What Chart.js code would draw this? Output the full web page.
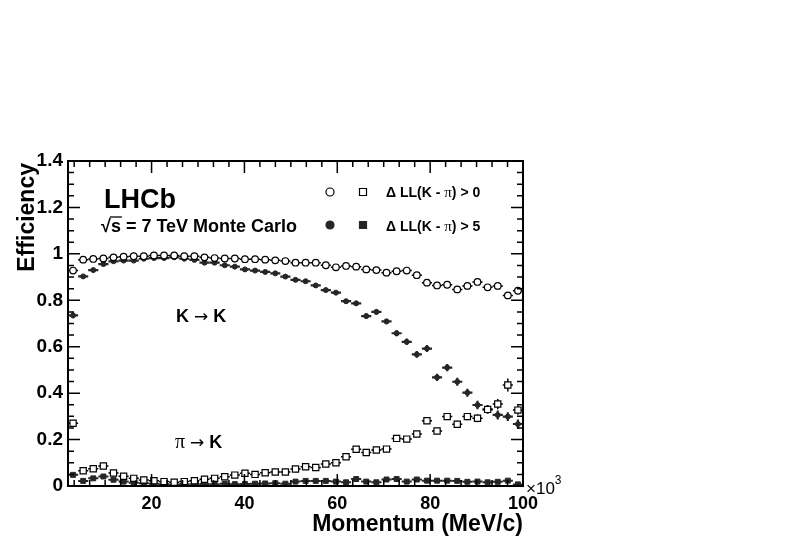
<!DOCTYPE html>
<html>
<head>
<meta charset="utf-8">
<title>LHCb RICH kaon efficiency</title>
<script src="https://cdn.jsdelivr.net/npm/chart.js@4.4.1/dist/chart.umd.min.js"></script>
<style>
  body { margin: 0; background: #fff; }
  canvas { display: block; }
</style>
</head>
<body>
<canvas id="effChart" width="788" height="540"></canvas>
<script>
// bin centres of the momentum histogram (x10^3 MeV/c)
const momentum = [3.09, 5.27, 7.44, 9.62, 11.80, 13.98, 16.16, 18.33, 20.51, 22.69,
  24.87, 27.04, 29.22, 31.40, 33.58, 35.76, 37.93, 40.11, 42.29, 44.47,
  46.64, 48.82, 51.00, 53.18, 55.36, 57.53, 59.71, 61.89, 64.07, 66.24,
  68.42, 70.60, 72.78, 74.96, 77.13, 79.31, 81.49, 83.67, 85.84, 88.02,
  90.20, 92.38, 94.56, 96.73, 98.91];
const binHalfWidth = 1.09;

// K -> K, DLL(K-pi) > 0
const kaonLoose = [0.928, 0.975, 0.978, 0.980, 0.985, 0.988, 0.990, 0.990, 0.993, 0.993,
  0.993, 0.990, 0.990, 0.985, 0.982, 0.980, 0.980, 0.977, 0.977, 0.975,
  0.972, 0.969, 0.962, 0.962, 0.962, 0.951, 0.942, 0.948, 0.945, 0.933,
  0.930, 0.919, 0.925, 0.928, 0.908, 0.876, 0.864, 0.867, 0.847, 0.862,
  0.879, 0.856, 0.862, 0.821, 0.841];
const kaonLooseErr = [0.006, 0.002, 0.002, 0.002, 0.002, 0.002, 0.002, 0.002, 0.002, 0.002,
  0.002, 0.002, 0.002, 0.003, 0.003, 0.003, 0.003, 0.003, 0.003, 0.003,
  0.004, 0.004, 0.004, 0.004, 0.005, 0.005, 0.005, 0.006, 0.006, 0.006,
  0.007, 0.007, 0.007, 0.008, 0.008, 0.009, 0.009, 0.010, 0.010, 0.011,
  0.011, 0.012, 0.012, 0.014, 0.014];

// K -> K, DLL(K-pi) > 5
const kaonTight = [0.735, 0.903, 0.930, 0.956, 0.968, 0.971, 0.971, 0.979, 0.982, 0.982,
  0.985, 0.979, 0.974, 0.962, 0.962, 0.951, 0.945, 0.933, 0.928, 0.922,
  0.916, 0.902, 0.888, 0.882, 0.864, 0.844, 0.833, 0.796, 0.787, 0.732,
  0.750, 0.709, 0.658, 0.621, 0.567, 0.592, 0.468, 0.510, 0.449, 0.402,
  0.349, 0.330, 0.306, 0.299, 0.267];
const kaonTightErr = [0.012, 0.004, 0.003, 0.003, 0.003, 0.002, 0.002, 0.002, 0.002, 0.002,
  0.002, 0.002, 0.003, 0.003, 0.003, 0.003, 0.004, 0.004, 0.004, 0.005,
  0.005, 0.006, 0.006, 0.007, 0.007, 0.008, 0.008, 0.009, 0.010, 0.011,
  0.011, 0.012, 0.013, 0.014, 0.015, 0.015, 0.016, 0.016, 0.017, 0.017,
  0.018, 0.018, 0.019, 0.019, 0.020];

// pi -> K, DLL(K-pi) > 0
const pionLoose = [0.270, 0.066, 0.074, 0.086, 0.056, 0.042, 0.033, 0.026, 0.023, 0.019,
  0.016, 0.019, 0.023, 0.029, 0.033, 0.040, 0.047, 0.055, 0.050, 0.057,
  0.060, 0.060, 0.073, 0.083, 0.080, 0.095, 0.100, 0.126, 0.158, 0.144,
  0.155, 0.159, 0.205, 0.202, 0.224, 0.281, 0.237, 0.299, 0.266, 0.299,
  0.292, 0.330, 0.353, 0.435, 0.327];
const pionLooseErr = [0.012, 0.003, 0.003, 0.003, 0.003, 0.002, 0.002, 0.002, 0.002, 0.002,
  0.002, 0.002, 0.002, 0.002, 0.002, 0.003, 0.003, 0.003, 0.003, 0.003,
  0.004, 0.004, 0.004, 0.005, 0.005, 0.006, 0.006, 0.007, 0.008, 0.008,
  0.009, 0.009, 0.010, 0.011, 0.012, 0.013, 0.013, 0.014, 0.015, 0.016,
  0.017, 0.018, 0.022, 0.028, 0.020];

// pi -> K, DLL(K-pi) > 5
const pionTight = [0.048, 0.022, 0.033, 0.041, 0.027, 0.019, 0.014, 0.012, 0.010, 0.008,
  0.007, 0.008, 0.007, 0.009, 0.008, 0.010, 0.008, 0.009, 0.010, 0.011,
  0.012, 0.010, 0.019, 0.022, 0.022, 0.022, 0.019, 0.016, 0.030, 0.019,
  0.016, 0.028, 0.030, 0.019, 0.028, 0.023, 0.023, 0.023, 0.022, 0.018,
  0.019, 0.016, 0.018, 0.023, 0.007];
const pionTightErr = [0.005, 0.002, 0.002, 0.002, 0.002, 0.001, 0.001, 0.001, 0.001, 0.001,
  0.001, 0.001, 0.001, 0.001, 0.001, 0.001, 0.001, 0.001, 0.001, 0.001,
  0.001, 0.001, 0.002, 0.002, 0.002, 0.002, 0.002, 0.002, 0.003, 0.002,
  0.002, 0.003, 0.003, 0.003, 0.003, 0.003, 0.003, 0.003, 0.003, 0.003,
  0.003, 0.003, 0.003, 0.004, 0.003];

// axis tick labels
const xTickLabels = [20, 40, 60, 80, 100];
const yTickLabels = [0, 0.2, 0.4, 0.6, 0.8, 1, 1.2, 1.4];

const SANS = '"Liberation Sans", Arial, Helvetica, sans-serif';
const SERIF = '"Liberation Serif", "Times New Roman", serif';
const ARROW = '"DejaVu Sans", sans-serif';
const DARK = '#262626';

function points(values) {
  return values.map((v, i) => ({ x: momentum[i], y: v }));
}

// horizontal (bin width) and vertical error bars, drawn just under each dataset's markers
const errorBars = {
  id: 'errorBars',
  beforeDatasetDraw(chart, args) {
    const ds = chart.data.datasets[args.index];
    const xs = chart.scales.x;
    const ys = chart.scales.y;
    const ctx = chart.ctx;
    ctx.save();
    ctx.strokeStyle = ds.errColor;
    ctx.lineWidth = ds.errWidth;
    ds.data.forEach((p, i) => {
      const e = ds.errors[i];
      const xc = xs.getPixelForValue(p.x);
      const y = ys.getPixelForValue(p.y);
      ctx.beginPath();
      ctx.moveTo(xs.getPixelForValue(p.x - binHalfWidth), y);
      ctx.lineTo(xs.getPixelForValue(p.x + binHalfWidth), y);
      ctx.moveTo(xc, ys.getPixelForValue(p.y - e));
      ctx.lineTo(xc, ys.getPixelForValue(p.y + e));
      ctx.stroke();
    });
    ctx.restore();
  }
};

// draw a row of text pieces in different fonts, returns end x
function drawRuns(ctx, x, y, runs) {
  runs.forEach(([text, font]) => {
    ctx.font = font;
    ctx.fillText(text, x, y);
    x += ctx.measureText(text).width;
  });
  return x;
}

function legendMarker(ctx, kind, filled, x, y) {
  ctx.beginPath();
  if (kind === 'circle') {
    ctx.arc(x, y, 4, 0, Math.PI * 2);
  } else {
    ctx.rect(x - 3.5, y - 3.5, 7, 7);
  }
  ctx.fillStyle = filled ? DARK : '#fff';
  ctx.fill();
  ctx.lineWidth = 1.2;
  ctx.strokeStyle = filled ? DARK : '#000';
  ctx.stroke();
}

// ROOT style frame with inward ticks, legend and labels
const rootFrame = {
  id: 'rootFrame',
  afterDraw(chart) {
    const ctx = chart.ctx;
    const a = chart.chartArea;
    const xs = chart.scales.x;
    const ys = chart.scales.y;
    ctx.save();
    ctx.strokeStyle = '#000';
    ctx.lineWidth = 2;
    ctx.strokeRect(a.left, a.top, a.right - a.left, a.bottom - a.top);

    ctx.lineWidth = 1.5;
    ctx.beginPath();
    for (let k = 1; k < 30; k++) {
      const px = xs.getPixelForValue(k * 10 / 3);
      const len = k % 6 === 0 ? 12 : 6;
      ctx.moveTo(px, a.bottom);
      ctx.lineTo(px, a.bottom - len);
      ctx.moveTo(px, a.top);
      ctx.lineTo(px, a.top + len);
    }
    for (let k = 1; k < 28; k++) {
      const py = ys.getPixelForValue(k * 0.05);
      const len = k % 4 === 0 ? 12 : 6;
      ctx.moveTo(a.left, py);
      ctx.lineTo(a.left + len, py);
      ctx.moveTo(a.right, py);
      ctx.lineTo(a.right - len, py);
    }
    ctx.stroke();

    ctx.fillStyle = '#000';
    ctx.textBaseline = 'alphabetic';
    ctx.textAlign = 'left';

    // experiment label
    ctx.font = 'bold 27px ' + SANS;
    ctx.fillText('LHCb', 104, 208);
    let x = drawRuns(ctx, 101, 232, [['√', 'bold 18px ' + SANS]]);
    ctx.font = 'bold 18px ' + SANS;
    const sw = ctx.measureText('s').width;
    ctx.lineWidth = 1.3;
    ctx.beginPath();
    ctx.moveTo(x - 1, 217);
    ctx.lineTo(x + sw + 1, 217);
    ctx.stroke();
    drawRuns(ctx, x, 232, [['s = 7 TeV Monte Carlo', 'bold 18px ' + SANS]]);

    // legend
    legendMarker(ctx, 'circle', false, 330, 192);
    legendMarker(ctx, 'rect', false, 363, 192);
    legendMarker(ctx, 'circle', true, 330, 225);
    legendMarker(ctx, 'rect', true, 363, 225);
    ctx.fillStyle = '#000';
    ['0', '5'].forEach((cut, r) => {
      drawRuns(ctx, 386, 197 + r * 33.5, [
        ['Δ LL(K - ', 'bold 14px ' + SANS],
        ['π', '15px ' + SERIF],
        [') > ' + cut, 'bold 14px ' + SANS]
      ]);
    });

    // channel labels
    drawRuns(ctx, 176, 322, [['K ', 'bold 18px ' + SANS], ['→', '17px ' + ARROW], [' K', 'bold 18px ' + SANS]]);
    drawRuns(ctx, 175, 448, [['π ', '20px ' + SERIF], ['→', '17px ' + ARROW], [' K', 'bold 18px ' + SANS]]);

    // axis multiplier
    x = drawRuns(ctx, 526, 494, [['×10', '17px ' + SANS]]);
    drawRuns(ctx, x, 484, [['3', '12px ' + SANS]]);

    // axis titles
    ctx.font = 'bold 23px ' + SANS;
    ctx.textAlign = 'right';
    ctx.fillText('Momentum (MeV/c)', a.right, 531);
    ctx.translate(34, a.top + 2);
    ctx.rotate(-Math.PI / 2);
    ctx.fillText('Efficiency', 0, 0);
    ctx.restore();
  }
};

const ctx = document.getElementById('effChart').getContext('2d');

const effChart = new Chart(ctx, {
  type: 'scatter',
  data: {
    datasets: [
      {
        label: 'K → K, ΔLL(K - π) > 0',
        data: points(kaonLoose),
        errors: kaonLooseErr,
        errColor: '#000', errWidth: 1.5,
        pointStyle: 'circle', pointRadius: 3.3, borderWidth: 1.2,
        borderColor: '#000', backgroundColor: '#fff'
      },
      {
        label: 'π → K, ΔLL(K - π) > 0',
        data: points(pionLoose),
        errors: pionLooseErr,
        errColor: '#000', errWidth: 1.5,
        pointStyle: 'rect', pointRadius: 4.4, borderWidth: 1.2,
        borderColor: '#000', backgroundColor: '#fff'
      },
      {
        label: 'K → K, ΔLL(K - π) > 5',
        data: points(kaonTight),
        errors: kaonTightErr,
        errColor: DARK, errWidth: 2.2,
        pointStyle: 'circle', pointRadius: 2.5, borderWidth: 1,
        borderColor: DARK, backgroundColor: DARK
      },
      {
        label: 'π → K, ΔLL(K - π) > 5',
        data: points(pionTight),
        errors: pionTightErr,
        errColor: DARK, errWidth: 2,
        pointStyle: 'rect', pointRadius: 3.5, borderWidth: 1,
        borderColor: DARK, backgroundColor: DARK
      }
    ]
  },
  options: {
    responsive: false,
    animation: false,
    layout: { padding: { left: 0, top: 161, right: 265, bottom: 0 } },
    plugins: {
      legend: { display: false },
      tooltip: { enabled: false }
    },
    scales: {
      x: {
        type: 'linear',
        min: 2,
        max: 100,
        grid: { display: false, drawTicks: false },
        border: { display: false },
        afterBuildTicks: (scale) => { scale.ticks = xTickLabels.map(v => ({ value: v })); },
        afterFit: (scale) => { scale.height = 54; },
        ticks: {
          padding: 7,
          color: '#000',
          font: { family: SANS, size: 18, weight: 'bold' },
          maxRotation: 0,
          callback: (v) => String(v)
        }
      },
      y: {
        min: 0,
        max: 1.4,
        grid: { display: false, drawTicks: false },
        border: { display: false },
        afterBuildTicks: (scale) => { scale.ticks = yTickLabels.map(v => ({ value: v })); },
        afterFit: (scale) => { scale.width = 68; },
        ticks: {
          padding: 5,
          color: '#000',
          font: { family: SANS, size: 19, weight: 'bold' },
          callback: (v) => String(v)
        }
      }
    }
  },
  plugins: [errorBars, rootFrame]
});
</script>
</body>
</html>
